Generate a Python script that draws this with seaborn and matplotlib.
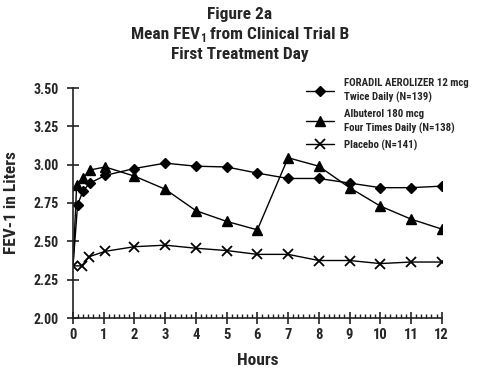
import os
import matplotlib
matplotlib.use("Agg")
import matplotlib.pyplot as plt
from matplotlib import font_manager as fm
from matplotlib.ticker import MultipleLocator, FixedLocator
import seaborn as sns
import pandas as pd

# ---- data ----
foradil_hours = [0, 0.15, 0.33, 0.55, 1.05, 2, 3, 4, 5, 6, 7, 8, 9, 10, 11, 12]
foradil_fev = [2.34, 2.74, 2.83, 2.88, 2.93, 2.975, 3.01, 2.99, 2.985, 2.945,
               2.91, 2.91, 2.88, 2.85, 2.85, 2.86]

albuterol_hours = [0, 0.12, 0.33, 0.55, 1.05, 2, 3, 4, 5, 6, 7, 8, 9, 10, 11, 12]
albuterol_fev = [2.34, 2.87, 2.915, 2.965, 2.985, 2.925, 2.84, 2.70, 2.63, 2.575,
                 3.045, 2.99, 2.85, 2.73, 2.645, 2.58]

placebo_hours = [0, 0.28, 0.53, 1.05, 2, 3, 4, 5, 6, 7, 8, 9, 10, 11, 12]
placebo_fev = [2.34, 2.34, 2.40, 2.435, 2.465, 2.475, 2.455, 2.44, 2.415, 2.415,
               2.375, 2.375, 2.355, 2.365, 2.365]

labels = ["FORADIL AEROLIZER 12 mcg\nTwice Daily (N=139)",
          "Albuterol 180 mcg\nFour Times Daily (N=138)",
          "Placebo (N=141)"]
x_ticks = list(range(0, 13))
y_ticks = [2.00, 2.25, 2.50, 2.75, 3.00, 3.25, 3.50]
title_line1 = "Figure 2a"
title_line2 = ("Mean FEV", "1", " from Clinical Trial B")
title_line3 = "First Treatment Day"

# ---- pick a bold condensed font if one is installed ----
sns.set_style("ticks")
cands = []
for f in fm.fontManager.ttflist:
    fn = os.path.basename(f.fname).lower()
    if ("narrow" in fn or "condensed" in fn) and "bold" in fn \
            and "italic" not in fn and "oblique" not in fn:
        cands.append(f)


def rank(f):
    fn = os.path.basename(f.fname).lower()
    if "liberation" in fn:
        return 0
    if "roboto" in fn:
        return 1
    if "dejavu" in fn:
        return 2
    return 3


cands.sort(key=rank)
if cands:
    FPATH = cands[0].fname
    scale = 1.0
else:
    FPATH = fm.findfont(fm.FontProperties(family="Liberation Sans", weight="bold"))
    scale = 0.85


def FP(size):
    return fm.FontProperties(fname=FPATH, size=size * scale)


plt.rcParams["font.family"] = ["DejaVu Sans"]

fig = plt.figure(figsize=(4.8, 3.69), dpi=100)
ax = fig.add_axes([73 / 480, 1 - 318 / 369, (441.7 - 73) / 480, (318 - 88) / 369])

df = pd.concat([
    pd.DataFrame({"Hours": foradil_hours, "FEV": foradil_fev, "grp": labels[0]}),
    pd.DataFrame({"Hours": albuterol_hours, "FEV": albuterol_fev, "grp": labels[1]}),
    pd.DataFrame({"Hours": placebo_hours, "FEV": placebo_fev, "grp": labels[2]}),
])

specs = [
    (labels[0], "D", 5.5, 1.0),
    (labels[1], "^", 6.5, 1.0),
    (labels[2], "x", 7, 1.3),
]
for lab, mk, ms, mew in specs:
    sub = df[df["grp"] == lab]
    n = len(sub)
    every = list(range(1, n)) if mk != "x" else list(range(n))
    sns.lineplot(data=sub, x="Hours", y="FEV", ax=ax, color="black", lw=1.0,
                 marker=mk, markersize=ms, markeredgewidth=mew,
                 markeredgecolor="black", markerfacecolor="black",
                 markevery=every, label=lab, estimator=None, sort=False)

ax.set_xlim(0, 12)
ax.set_ylim(2.0, 3.5)
ax.xaxis.set_major_locator(FixedLocator(x_ticks))
ax.xaxis.set_minor_locator(MultipleLocator(1 / 6))
ax.yaxis.set_major_locator(FixedLocator(y_ticks))
ax.set_xticklabels([str(t) for t in x_ticks])
ax.set_yticklabels([f"{v:.2f}" for v in y_ticks])

for s in ["top", "right"]:
    ax.spines[s].set_visible(False)
for s in ["left", "bottom"]:
    ax.spines[s].set_linewidth(1.2)
    ax.spines[s].set_color("#222222")

ax.tick_params(axis="y", which="major", direction="inout", length=9, width=1.2,
               color="#222222", pad=6)
ax.tick_params(axis="x", which="major", direction="inout", length=8, width=1.2,
               color="#222222", pad=3)
ax.tick_params(axis="x", which="minor", direction="in", length=3, width=1.0,
               color="#222222")
for lab in ax.get_xticklabels():
    lab.set_fontproperties(FP(10.5))
for lab in ax.get_yticklabels():
    lab.set_fontproperties(FP(10))

ax.set_xlabel("Hours", fontproperties=FP(12.5), labelpad=8)
ax.set_ylabel("FEV-1 in Liters", fontproperties=FP(12.5), labelpad=10)

leg = ax.legend(loc="upper left", bbox_to_anchor=(306 / 480, 1 - 78 / 369),
                bbox_transform=fig.transFigure, frameon=False, prop=FP(7.8),
                handlelength=2.6, handletextpad=0.9, labelspacing=0.5,
                borderaxespad=0, borderpad=0)
for t in leg.get_texts():
    t.set_linespacing(1.45)

# ---- title (three lines, subscript in line 2) ----
fig.text(0.5, 1 - 14 / 369, title_line1, ha="center", va="center",
         fontproperties=FP(12.5))
fig.text(0.5, 1 - 55 / 369, title_line3, ha="center", va="center",
         fontproperties=FP(12.5))

renderer = fig.canvas.get_renderer()
yb = 1 - 39 / 369
parts = [fig.text(0, yb, title_line2[0], ha="left", va="baseline", fontproperties=FP(12.5)),
         fig.text(0, yb, title_line2[1], ha="left", va="baseline", fontproperties=FP(8.5)),
         fig.text(0, yb, title_line2[2], ha="left", va="baseline", fontproperties=FP(12.5))]
widths = [p.get_window_extent(renderer).width / fig.bbox.width for p in parts]
x = 0.5 - sum(widths) / 2
for p, w, dy in zip(parts, widths, [0, -3.0 / 369, 0]):
    p.set_position((x, yb + dy))
    x += w

fig.savefig("out.png", dpi=100, facecolor="white")
